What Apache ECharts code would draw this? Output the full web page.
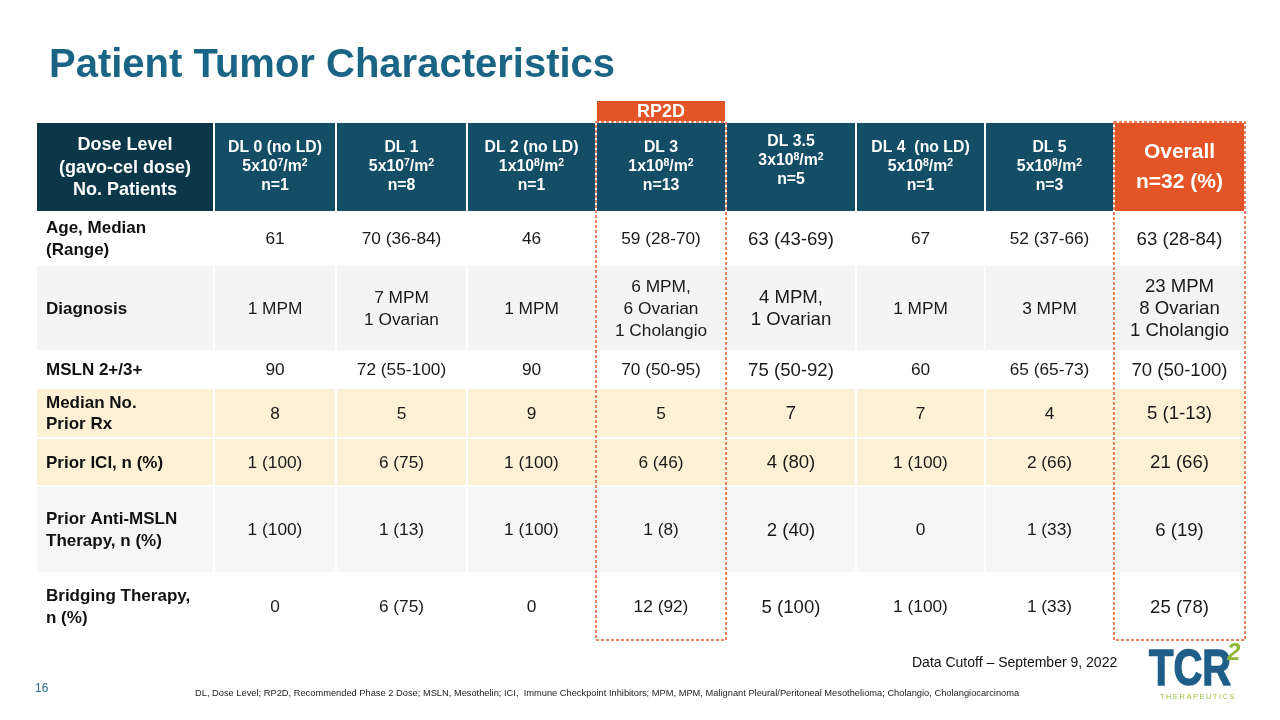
<!DOCTYPE html>
<html><head><meta charset="utf-8">
<script src="https://cdn.jsdelivr.net/npm/echarts@6/dist/echarts.min.js"></script>
<style>html,body{margin:0;padding:0;background:#fff}#c{width:1280px;height:720px}</style>
</head><body><div id="c"></div>
<script>
// ---------- data ----------
const doseLevels = ['DL 0 (no LD)', 'DL 1', 'DL 2 (no LD)', 'DL 3', 'DL 3.5', 'DL 4  (no LD)', 'DL 5'];
const doseMantissa = ['5', '5', '1', '1', '3', '5', '5'];
const doseExponent = ['7', '7', '8', '8', '8', '8', '8'];
const patients = [1, 8, 1, 13, 5, 1, 3];
const overallN = 32;
const rp2dLevel = 'DL 3';
const cornerLabel = ['Dose Level', '(gavo-cel dose)', 'No. Patients'];
const rowLabels = ['Age, Median\n(Range)', 'Diagnosis', 'MSLN 2+/3+', 'Median No.\nPrior Rx', 'Prior ICI, n (%)', 'Prior Anti-MSLN\nTherapy, n (%)', 'Bridging Therapy,\nn (%)'];
const ageMedian = ['61', '70 (36-84)', '46', '59 (28-70)', '63 (43-69)', '67', '52 (37-66)', '63 (28-84)'];
const diagnosis = ['1 MPM', '7 MPM\n1 Ovarian', '1 MPM', '6 MPM,\n6 Ovarian\n1 Cholangio', '4 MPM,\n1 Ovarian', '1 MPM', '3 MPM', '23 MPM\n8 Ovarian\n1 Cholangio'];
const msln = ['90', '72 (55-100)', '90', '70 (50-95)', '75 (50-92)', '60', '65 (65-73)', '70 (50-100)'];
const priorRx = ['8', '5', '9', '5', '7', '7', '4', '5 (1-13)'];
const priorICI = ['1 (100)', '6 (75)', '1 (100)', '6 (46)', '4 (80)', '1 (100)', '2 (66)', '21 (66)'];
const priorAntiMSLN = ['1 (100)', '1 (13)', '1 (100)', '1 (8)', '2 (40)', '0', '1 (33)', '6 (19)'];
const bridging = ['0', '6 (75)', '0', '12 (92)', '5 (100)', '1 (100)', '1 (33)', '25 (78)'];
const bodyRows = [ageMedian, diagnosis, msln, priorRx, priorICI, priorAntiMSLN, bridging];

// ---------- layout / style ----------
const FONT = '"Liberation Sans", Arial, Helvetica, sans-serif';
const colWidths = [178, 122, 131, 129, 130, 130, 129, 129, 131];
const rowHeights = [22, 90, 53, 86, 37, 50, 48, 87, 67];
const rowBg = ['#ffffff', '#f4f4f4', '#ffffff', '#fdf1d5', '#fdf1d5', '#f6f6f6', '#ffffff'];
const cumX = [0]; colWidths.forEach(w => cumX.push(cumX[cumX.length - 1] + w));
const cumY = [0]; rowHeights.forEach(h => cumY.push(cumY[cumY.length - 1] + h));
const ORANGE = '#e35526';
const HEAD = '#134e66';
const CORNER = '#0c3749';

// ---------- cells ----------
const cells = [];
cells.push({ c: 1 + doseLevels.indexOf(rp2dLevel), r: 0, kind: 'rp2d' });
cells.push({ c: 0, r: 1, kind: 'corner' });
doseLevels.forEach((d, i) => cells.push({ c: i + 1, r: 1, kind: 'head', i }));
cells.push({ c: 8, r: 1, kind: 'overall' });
bodyRows.forEach((vals, ri) => {
  cells.push({ c: 0, r: ri + 2, kind: 'label', ri });
  vals.forEach((v, ci) => cells.push({ c: ci + 1, r: ri + 2, kind: 'value', ri, ci }));
});

const headRich = {
  h: { fontSize: 15.8, fontWeight: 'bold', fontFamily: FONT, fill: '#fff', lineHeight: 19 },
  s: { fontSize: 10.5, fontWeight: 'bold', fontFamily: FONT, fill: '#fff', verticalAlign: 'top' },
  e: { fontSize: 10, fontFamily: FONT, fill: '#fff', lineHeight: 12 }
};

function cellRender(params, api) {
  const cell = cells[params.dataIndex];
  const p0 = api.coord([cumX[cell.c], cumY[cell.r]]);
  const p1 = api.coord([cumX[cell.c + 1], cumY[cell.r + 1]]);
  const x = p0[0], y = p0[1], w = p1[0] - p0[0], h = p1[1] - p0[1];
  let fill = '#fff', text = '', ts = {};
  const cx = x + w / 2, cy = y + h / 2;
  if (cell.kind === 'rp2d') {
    fill = ORANGE; text = 'RP2D';
    ts = { fontSize: 18, fontWeight: 'bold', fill: '#fff', x: cx, y: cy + 1 };
  } else if (cell.kind === 'corner') {
    fill = CORNER; text = cornerLabel.join('\n');
    ts = { fontSize: 18, fontWeight: 'bold', fill: '#fff', lineHeight: 22.5, x: cx, y: cy + 1 };
  } else if (cell.kind === 'head') {
    fill = HEAD;
    const i = cell.i;
    text = '{h|' + doseLevels[i] + '}\n{h|' + doseMantissa[i] + 'x10}{s|' + doseExponent[i] + '}{h|/m}{s|2}\n{h|n=' + patients[i] + '}';
    if (doseLevels[i] === 'DL 3.5') text += '\n{e| }';
    ts = { rich: headRich, x: cx, y: cy, fill: '#fff' };
  } else if (cell.kind === 'overall') {
    fill = ORANGE; text = 'Overall\nn=' + overallN + ' (%)';
    ts = { fontSize: 21, fontWeight: 'bold', fill: '#fff', lineHeight: 30, x: cx, y: cy };
  } else if (cell.kind === 'label') {
    fill = rowBg[cell.ri]; text = rowLabels[cell.ri];
    ts = { fontSize: 17, fontWeight: 'bold', fill: '#111', lineHeight: 21.5, x: x + 10, y: cy + 1, align: 'left' };
  } else {
    fill = rowBg[cell.ri]; text = bodyRows[cell.ri][cell.ci];
    const big = (cell.ci === 4 || cell.ci === 7);
    ts = { fontSize: big ? 18.6 : 17.3, fill: '#1a1a1a', lineHeight: 22, x: cx, y: cy + 1 };
  }
  const style = Object.assign({ text, align: 'center', verticalAlign: 'middle', fontFamily: FONT }, ts);
  return {
    type: 'group',
    children: [
      { type: 'rect', shape: { x: x + 1, y: y + 1, width: w - 2, height: h - 2 }, style: { fill } },
      { type: 'text', style }
    ]
  };
}

const boxCols = [1 + doseLevels.indexOf(rp2dLevel), 8];
function boxRender(params, api) {
  const c = boxCols[params.dataIndex];
  const p0 = api.coord([cumX[c], cumY[1]]);
  const p1 = api.coord([cumX[c + 1], cumY[cumY.length - 1]]);
  return {
    type: 'rect',
    shape: { x: p0[0], y: p0[1], width: p1[0] - p0[0], height: p1[1] - p0[1] },
    style: { fill: 'none', stroke: '#e0582b', lineWidth: 1.5, lineDash: [3, 2] }
  };
}

const chart = echarts.init(document.getElementById('c'));
chart.setOption({
  animation: false,
  backgroundColor: '#ffffff',
  title: {
    text: 'Patient Tumor Characteristics', left: 49, top: 46, padding: 0,
    textStyle: { fontSize: 40, fontWeight: 'bold', color: '#1a6585', fontFamily: FONT }
  },
  grid: { left: 36, top: 100, width: cumX[cumX.length - 1], height: cumY[cumY.length - 1] },
  xAxis: { type: 'value', min: 0, max: cumX[cumX.length - 1], show: false },
  yAxis: { type: 'value', min: 0, max: cumY[cumY.length - 1], inverse: true, show: false },
  series: [
    { type: 'custom', renderItem: cellRender, data: cells.map(c => [c.c, c.r]), silent: true, clip: false },
    { type: 'custom', renderItem: boxRender, data: boxCols.map(c => [c, 1]), silent: true, clip: false, z: 3 }
  ],
  graphic: [
    { type: 'text', left: 35, top: 683, style: { text: '16', fontSize: 12, fill: '#2a6f8f', fontFamily: FONT } },
    { type: 'text', left: 195, top: 689, style: { text: 'DL, Dose Level; RP2D, Recommended Phase 2 Dose; MSLN, Mesothelin; ICI,  Immune Checkpoint Inhibitors; MPM, MPM, Malignant Pleural/Peritoneal Mesothelioma; Cholangio, Cholangiocarcinoma', fontSize: 9.3, fill: '#222', fontFamily: FONT } },
    { type: 'text', left: 912, top: 656, style: { text: 'Data Cutoff \u2013 September 9, 2022', fontSize: 14, fill: '#111', fontFamily: FONT } },
    { type: 'text', x: 1149, y: 646, scaleX: 0.8, style: { text: 'TCR', fontSize: 50, fontWeight: 'bold', fill: '#1f5e88', fontFamily: FONT, stroke: '#1f5e88', lineWidth: 1.5 } },
    { type: 'text', x: 1227, y: 641, style: { text: '2', fontSize: 24, fontWeight: 'bold', fontStyle: 'italic', fill: '#8fb83a', fontFamily: FONT } },
    { type: 'text', x: 1160, y: 693, style: { text: 'T\u2009H\u2009E\u2009R\u2009A\u2009P\u2009E\u2009U\u2009T\u2009I\u2009C\u2009S', fontSize: 7.5, fill: '#9cc03c', fontFamily: FONT } }
  ]
});
</script>
</body></html>
